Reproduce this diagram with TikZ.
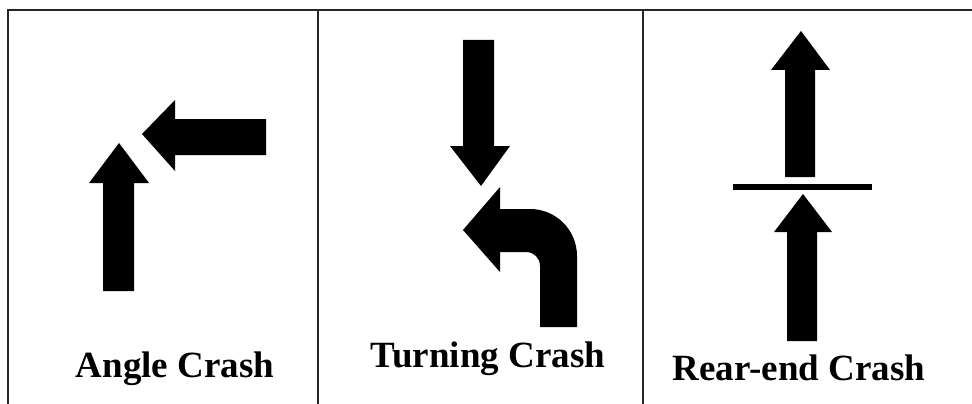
\documentclass[tikz,border=0pt]{standalone}
\usepackage{fontspec}
\setmainfont{Liberation Serif}
\begin{document}
\begin{tikzpicture}[x=1pt,y=-1pt,
  rule/.style={draw=black!85,line width=2.4pt},
  arrowshape/.style={fill=black,draw=none},
  crashlabel/.style={anchor=base,inner sep=0pt,font=\fontsize{37}{40}\selectfont\bfseries}]
\useasboundingbox (0,0) rectangle (972,404);
% table rules
\draw[rule] (8,404) -- (8,10) -- (972,10);
\draw[rule] (318,10) -- (318,404);
\draw[rule] (643,10) -- (643,404);
% Angle crash
\fill[arrowshape] (103,291) -- (103,183) -- (89,183) -- (119,143) -- (149,183) -- (134,183) -- (134,291) -- cycle;
\fill[arrowshape] (266,119) -- (175,119) -- (175,100) -- (142,134) -- (175,171) -- (175,155) -- (266,155) -- cycle;
% Turning crash
\fill[arrowshape] (463,40) -- (494,40) -- (494,146) -- (510,146) -- (481,186) -- (450,146) -- (463,146) -- cycle;
\fill[arrowshape] (463,230) -- (500,187) -- (500,209) -- (530,209)
  .. controls (556,209) and (577,230) .. (577,256) -- (577,327) -- (540,327) -- (540,266)
  .. controls (540,258) and (534,252) .. (526,252) -- (500,252) -- (500,272) -- cycle;
% Rear-end crash
\fill[arrowshape] (785,177) -- (785,70) -- (771,70) -- (801,31) -- (830,70) -- (815,70) -- (815,177) -- cycle;
\fill[arrowshape] (733,184) rectangle (872,190);
\fill[arrowshape] (787,341) -- (787,232) -- (774,232) -- (803,194) -- (832,232) -- (817,232) -- (817,341) -- cycle;
% labels
\node[crashlabel] (angle) at (175,377) {Angle Crash};
\node[crashlabel] (turning) at (488,367) {Turning Crash};
\node[crashlabel] (rearend) at (799,380) {Rear-end Crash};
\end{tikzpicture}
\end{document}
